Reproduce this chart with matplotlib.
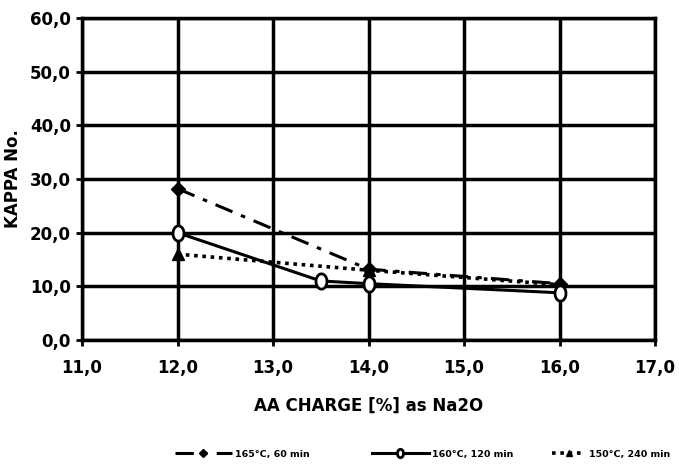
import numpy as np
import matplotlib.pyplot as plt

# data
x_165 = [12.0, 14.0, 16.0]
kappa_165 = [28.2, 13.2, 10.5]

x_160 = [12.0, 13.5, 14.0, 16.0]
kappa_160 = [20.0, 11.0, 10.5, 8.8]

x_150 = [12.0, 14.0, 16.0]
kappa_150 = [16.0, 13.0, 10.3]

labels = ['165°C, 60 min', '160°C, 120 min', '150°C, 240 min']
x_ticks = [11, 12, 13, 14, 15, 16, 17]
y_ticks = [0, 10, 20, 30, 40, 50, 60]

plt.rcParams['font.family'] = 'DejaVu Sans'
plt.rcParams['font.weight'] = 'bold'

# tall ellipse marker like the scanned open circles
t = np.linspace(0, 2 * np.pi, 40)
ellipse = list(zip(0.72 * np.cos(t), np.sin(t)))

fig = plt.figure(figsize=(6.79, 4.65), dpi=100)
ax = fig.add_axes([0.1208, 0.2688, 0.8439, 0.6925])

l1, = ax.plot(x_165, kappa_165, color='black', lw=2.2, dashes=(6, 3, 1.5, 3),
              marker='D', ms=7, mfc='black', mec='black', zorder=4)
l2, = ax.plot(x_160, kappa_160, color='black', lw=2.2, ls='-',
              marker=ellipse, ms=11, mfc='white', mec='black', mew=2, zorder=5)
l3, = ax.plot(x_150, kappa_150, color='black', lw=2.6, ls=(0, (1, 1.3)),
              marker='^', ms=8, mfc='black', mec='black', zorder=3)

ax.set_xlim(11, 17)
ax.set_ylim(0, 60)
ax.set_xticks(x_ticks)
ax.set_yticks(y_ticks)
ax.set_xticklabels([f'{v:.1f}'.replace('.', ',') for v in x_ticks], fontsize=12, fontweight='bold')
ax.set_yticklabels([f'{v:.1f}'.replace('.', ',') for v in y_ticks], fontsize=12, fontweight='bold')
ax.grid(True, color='black', lw=2.5)
ax.set_axisbelow(True)
for s in ax.spines.values():
    s.set_linewidth(2.5)
ax.tick_params(axis='both', length=4, width=2, pad=4)
ax.tick_params(axis='x', pad=10)

ax.set_xlabel('AA CHARGE [%] as Na2O', fontsize=12, fontweight='bold', labelpad=14)
ax.set_ylabel('KAPPA No.', fontsize=12, fontweight='bold', labelpad=6)

# legend entries spread along the bottom
for handle, lab, xpos, hl in zip([l1, l2, l3], labels, [175, 372, 552], [6, 6, 3.5]):
    fig.legend([handle], [lab], loc='center left',
               bbox_to_anchor=(xpos / 679, 1 - 454 / 465), frameon=False,
               fontsize=6.8, handlelength=hl, handletextpad=0.4, markerscale=0.55,
               borderpad=0, borderaxespad=0)

fig.savefig('out.png', dpi=100)
